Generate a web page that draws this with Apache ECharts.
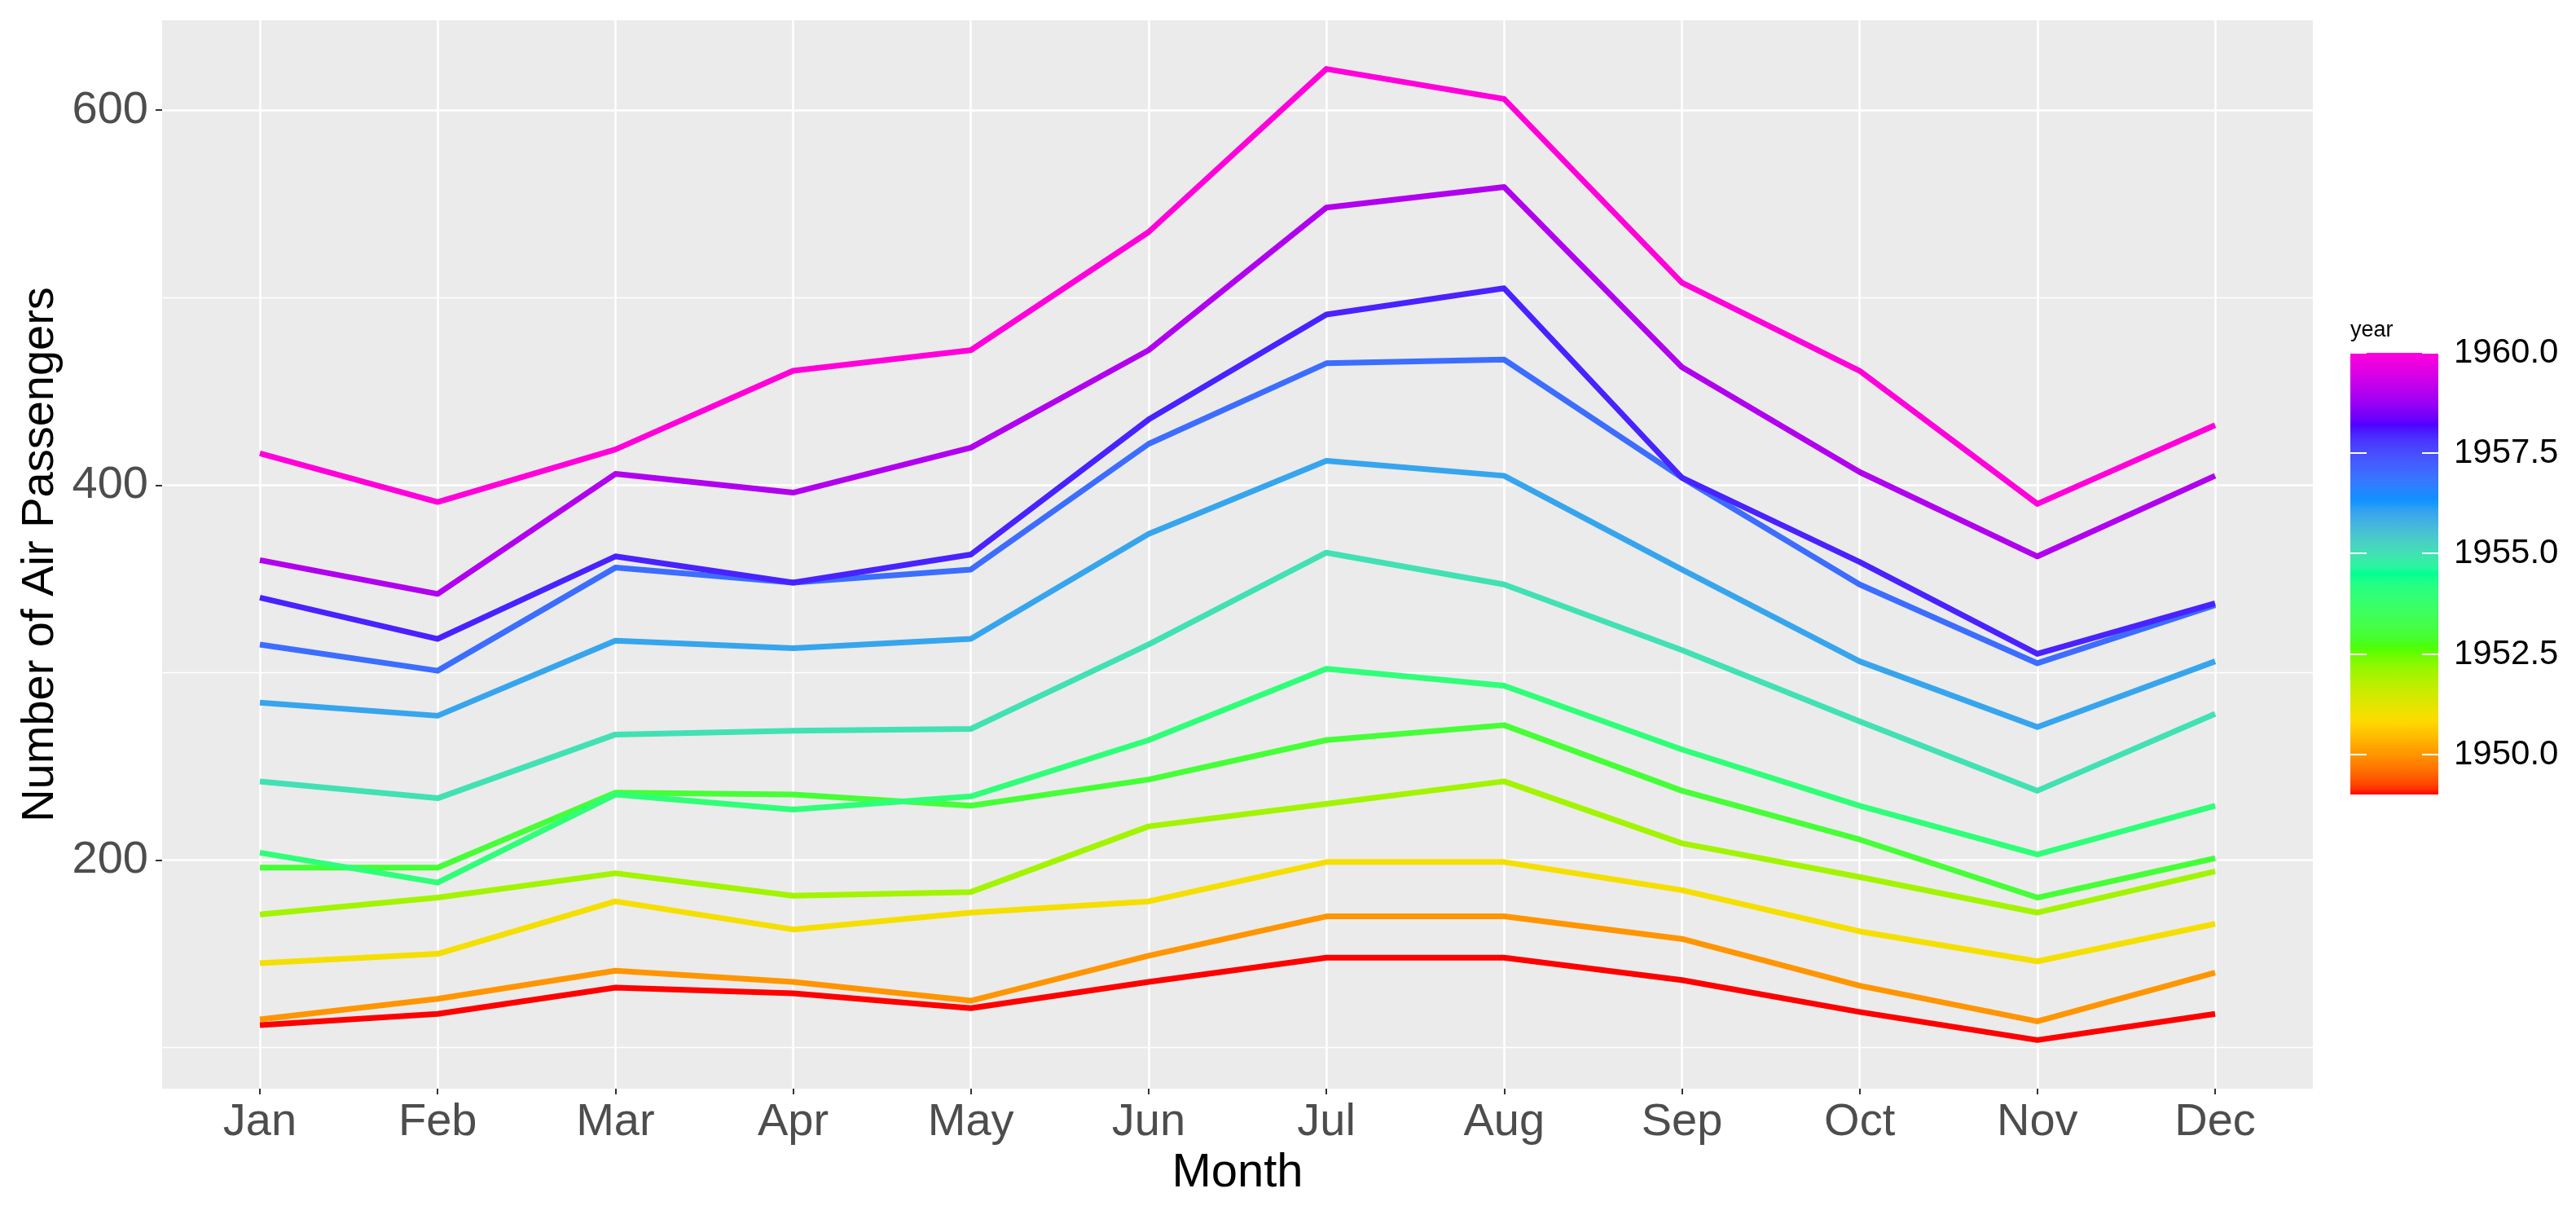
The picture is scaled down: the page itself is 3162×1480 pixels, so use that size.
<!DOCTYPE html>
<html>
<head>
<meta charset="utf-8">
<script src="https://cdn.jsdelivr.net/npm/echarts@6/dist/echarts.min.js"></script>
<style>
html,body{margin:0;padding:0;background:#ffffff;}
#chart{width:3162px;height:1480px;}
</style>
</head>
<body>
<div id="chart"></div>
<script>
// ---------- data ----------
const months = ['Jan','Feb','Mar','Apr','May','Jun','Jul','Aug','Sep','Oct','Nov','Dec'];
const years = [1949,1950,1951,1952,1953,1954,1955,1956,1957,1958,1959,1960];
const p1949 = [112,118,132,129,121,135,148,148,136,119,104,118];
const p1950 = [115,126,141,135,125,149,170,170,158,133,114,140];
const p1951 = [145,150,178,163,172,178,199,199,184,162,146,166];
const p1952 = [171,180,193,181,183,218,230,242,209,191,172,194];
const p1953 = [196,196,236,235,229,243,264,272,237,211,180,201];
const p1954 = [204,188,235,227,234,264,302,293,259,229,203,229];
const p1955 = [242,233,267,269,270,315,364,347,312,274,237,278];
const p1956 = [284,277,317,313,318,374,413,405,355,306,271,306];
const p1957 = [315,301,356,348,355,422,465,467,404,347,305,336];
const p1958 = [340,318,362,348,363,435,491,505,404,359,310,337];
const p1959 = [360,342,406,396,420,472,548,559,463,407,362,405];
const p1960 = [417,391,419,461,472,535,622,606,508,461,390,432];
const passengers = [p1949,p1950,p1951,p1952,p1953,p1954,p1955,p1956,p1957,p1958,p1959,p1960];
const yMajorTicks = [200,400,600];
const yMinorTicks = [100,300,500];
const legendTicks = [1950,1952.5,1955,1957.5,1960];

// ---------- colour ramp (rainbow(7) interpolated in CIELAB) ----------
const rainbow7 = ['#FF0000','#FFDB00','#49FF00','#00FF92','#0092FF','#4900FF','#FF00DB'];
function toLin(c){c/=255;return c<=0.04045?c/12.92:Math.pow((c+0.055)/1.055,2.4);}
function fromLin(c){c=Math.max(0,Math.min(1,c));const v=c<=0.0031308?12.92*c:1.055*Math.pow(c,1/2.4)-0.055;return Math.round(Math.max(0,Math.min(1,v))*255);}
function hexToLab(h){
  const r=toLin(parseInt(h.substr(1,2),16)),g=toLin(parseInt(h.substr(3,2),16)),b=toLin(parseInt(h.substr(5,2),16));
  let X=(0.4124564*r+0.3575761*g+0.1804375*b)/0.95047;
  let Y=(0.2126729*r+0.7151522*g+0.0721750*b);
  let Z=(0.0193339*r+0.1191920*g+0.9503041*b)/1.08883;
  const f=t=>t>0.008856?Math.cbrt(t):7.787*t+16/116;
  const fx=f(X),fy=f(Y),fz=f(Z);
  return [116*fy-16,500*(fx-fy),200*(fy-fz)];
}
function labToHex(L,a,b){
  const fy=(L+16)/116,fx=fy+a/500,fz=fy-b/200;
  const fi=t=>{const t3=t*t*t;return t3>0.008856?t3:(t-16/116)/7.787;};
  const X=fi(fx)*0.95047,Y=fi(fy),Z=fi(fz)*1.08883;
  const r=3.2404542*X-1.5371385*Y-0.4985314*Z;
  const g=-0.9692660*X+1.8760108*Y+0.0415560*Z;
  const bb=0.0556434*X-0.2040259*Y+1.0572252*Z;
  const hx=v=>fromLin(v).toString(16).padStart(2,'0');
  return '#'+hx(r)+hx(g)+hx(bb);
}
const labStops=rainbow7.map(hexToLab);
function ramp(t){
  t=Math.max(0,Math.min(1,t));
  const n=labStops.length-1;
  let i=Math.min(n-1,Math.floor(t*n));
  const u=t*n-i;
  const A=labStops[i],B=labStops[i+1];
  return labToHex(A[0]+(B[0]-A[0])*u,A[1]+(B[1]-A[1])*u,A[2]+(B[2]-A[2])*u);
}
const yMin=years[0], yMax=years[years.length-1];
const yearColor=y=>ramp((y-yMin)/(yMax-yMin));

// ---------- series ----------
const series = years.map((yr,k)=>({
  name:String(yr),
  type:'line',
  xAxisIndex:0,yAxisIndex:0,
  data:passengers[k].map((v,i)=>[i+1,v]),
  showSymbol:false,symbol:'none',
  lineStyle:{color:yearColor(yr),width:7,cap:'butt',join:'round'},
  itemStyle:{color:yearColor(yr)},
  emphasis:{disabled:true},
  silent:true,
  animation:false,
  z:2
}));

// ---------- legend (colour bar) ----------
const barX=2885, barTop=433, barBottom=975, barW=108;
const yearToPix=y=>barBottom-(y-yMin)/(yMax-yMin)*(barBottom-barTop);
const gradStops=[];
for(let i=0;i<=80;i++){const t=i/80;gradStops.push({offset:1-t,color:ramp(t)});}
const graphics=[
  {type:'text',left:barX,top:392,style:{text:'year',font:'27px "Liberation Sans", Arial, sans-serif',fill:'#000000'}},
  {type:'rect',shape:{x:barX,y:barTop,width:barW,height:barBottom-barTop},
   style:{fill:new echarts.graphic.LinearGradient(0,0,0,1,gradStops)},z:10}
];
legendTicks.forEach(v=>{
  const py=Math.round(yearToPix(v));
  graphics.push({type:'line',shape:{x1:barX,y1:py,x2:barX+20,y2:py},style:{stroke:'#ffffff',lineWidth:2},z:11});
  graphics.push({type:'line',shape:{x1:barX+barW-20,y1:py,x2:barX+barW,y2:py},style:{stroke:'#ffffff',lineWidth:2},z:11});
  graphics.push({type:'text',x:3012,y:py,style:{text:v.toFixed(1),font:'42px "Liberation Sans", Arial, sans-serif',fill:'#000000',textVerticalAlign:'middle',verticalAlign:'middle'},z:11});
});

const fontFam='"Liberation Sans", Arial, sans-serif';
const option={
  animation:false,
  backgroundColor:'#ffffff',
  grid:{left:199,top:25,right:323,bottom:144,show:true,backgroundColor:'#EBEBEB',borderWidth:0,containLabel:false},
  xAxis:[{
    type:'value',min:0.45,max:12.55,
    name:'Month',nameLocation:'middle',nameGap:66,
    nameTextStyle:{fontFamily:fontFam,fontSize:58,color:'#000000'},
    axisLine:{show:false},
    axisTick:{show:true,length:7,lineStyle:{color:'#333333',width:2},customValues:[1,2,3,4,5,6,7,8,9,10,11,12]},
    axisLabel:{customValues:[1,2,3,4,5,6,7,8,9,10,11,12],formatter:v=>months[Math.round(v)-1]||'',
      fontFamily:fontFam,fontSize:56,color:'#4D4D4D',margin:14},
    splitLine:{show:true,lineStyle:{color:'#ffffff',width:2.5}},
    minorSplitLine:{show:false}
  }],
  yAxis:[{
    type:'value',min:78.1,max:647.9,
    name:'Number of Air Passengers',nameLocation:'middle',nameGap:94,nameRotate:90,
    nameTextStyle:{fontFamily:fontFam,fontSize:56,color:'#000000'},
    axisLine:{show:false},
    axisTick:{show:true,length:8,lineStyle:{color:'#333333',width:2},customValues:yMajorTicks},
    axisLabel:{customValues:yMajorTicks,fontFamily:fontFam,fontSize:56,color:'#4D4D4D',margin:17},
    splitLine:{show:true,lineStyle:{color:'#ffffff',width:2.5}}
  },{
    type:'value',min:78.1,max:647.9,position:'left',
    axisLine:{show:false},
    axisTick:{show:false,customValues:yMinorTicks},
    axisLabel:{show:false,customValues:yMinorTicks},
    splitLine:{show:true,lineStyle:{color:'#ffffff',width:1.3}}
  }],
  series:series,
  graphic:graphics
};
const chart=echarts.init(document.getElementById('chart'),null,{renderer:'canvas'});
chart.setOption(option);
</script>
</body>
</html>
